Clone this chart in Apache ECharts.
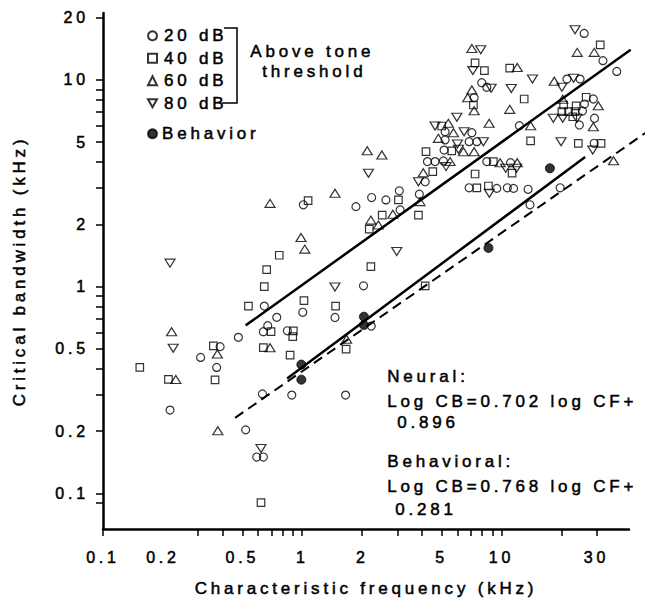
<!DOCTYPE html>
<html>
<head>
<meta charset="utf-8">
<title>Critical bandwidth vs characteristic frequency</title>
<script src="https://cdn.jsdelivr.net/npm/echarts@6.0.0/dist/echarts.min.js"></script>
<style>
  html, body { margin: 0; padding: 0; background: #fff; }
  #chart { width: 645px; height: 602px; }
  /* lettering in the figure is widely tracked */
  #chart text { letter-spacing: 3.8px; }
</style>
</head>
<body>
<div id="chart"></div>
<script>
// [CF kHz, CB kHz] per level above tone threshold
const db20 = [
  [0.217, 0.253], [0.309, 0.455], [0.387, 0.513], [0.372, 0.407], [0.478, 0.569],
  [0.645, 0.806], [0.745, 0.711], [0.671, 0.648], [0.638, 0.606], [0.631, 0.303],
  [0.52, 0.203], [0.591, 0.15], [0.638, 0.15], [0.842, 0.612], [0.886, 0.299],
  [1.006, 0.752], [1.013, 2.49], [1.46, 0.71], [2.03, 1.01], [1.65, 0.299],
  [2.22, 0.645], [26.0, 16.8], [32.3, 12.4], [37.9, 11.0], [21.3, 10.1],
  [24.8, 10.1], [7.96, 9.7], [8.44, 9.22], [7.29, 8.21], [28.9, 8.09],
  [26.1, 7.65], [25.5, 7.08], [29.3, 6.53], [24.6, 6.06], [12.3, 6.01],
  [5.21, 5.62], [7.1, 5.56], [5.21, 5.13], [6.88, 5.03], [7.52, 5.03],
  [5.15, 4.58], [4.25, 4.03], [4.64, 4.03], [5.11, 4.06], [4.14, 3.22],
  [3.87, 2.8], [3.07, 2.91], [2.23, 2.7], [2.63, 2.63], [1.86, 2.44],
  [3.1, 2.35], [8.44, 4.03], [11.1, 3.98], [6.88, 3.01], [9.47, 2.99],
  [10.7, 3.01], [11.5, 2.99], [13.6, 2.96], [13.9, 2.49], [19.7, 3.01],
  [29.2, 4.94],
]
const db40 = [
  [0.153, 0.407], [0.213, 0.356], [0.358, 0.517], [0.365, 0.354], [0.537, 0.806],
  [0.645, 1.0], [0.697, 0.606], [0.638, 0.507], [0.621, 0.0902], [0.902, 0.612],
  [0.896, 0.573], [0.869, 0.467], [1.02, 0.856], [0.767, 1.42], [0.663, 1.21],
  [1.07, 2.61], [1.47, 0.806], [2.21, 1.25], [1.66, 0.499], [4.14, 1.01],
  [31.3, 14.8], [7.37, 12.1], [8.21, 11.1], [11.0, 11.4], [13.0, 8.09],
  [7.23, 7.57], [26.6, 8.25], [20.5, 7.57], [23.7, 7.49], [20.1, 7.03],
  [21.7, 7.03], [23.4, 7.03], [22.8, 6.64], [5.01, 5.99], [4.18, 4.5],
  [5.63, 4.54], [4.52, 3.6], [3.83, 2.22], [3.04, 2.63], [2.52, 2.22],
  [2.17, 1.9], [7.37, 3.51], [9.1, 4.03], [11.3, 3.54], [7.52, 3.01],
  [8.6, 3.07], [14.0, 5.07], [24.3, 4.94], [31.6, 4.94],
]
const db60 = [
  [0.232, 0.356], [0.221, 0.606], [0.375, 0.473], [0.377, 0.201], [0.689, 0.507],
  [0.689, 2.53], [1.46, 2.83], [0.986, 1.73], [1.03, 1.52], [1.67, 0.557],
  [24.0, 13.6], [29.2, 13.6], [7.1, 14.2], [12.0, 11.5], [18.4, 9.86],
  [7.1, 8.95], [6.77, 8.21], [7.29, 7.1], [11.0, 7.21], [20.3, 8.07],
  [30.6, 7.51], [28.9, 5.94], [14.0, 6.01], [8.67, 6.17], [5.41, 6.17],
  [5.74, 5.56], [4.82, 5.22], [6.44, 4.5], [7.29, 4.5], [5.52, 4.03],
  [4.05, 3.56], [3.9, 2.58], [2.85, 2.24], [2.21, 2.1], [2.41, 1.99],
  [2.12, 4.55], [2.51, 4.34], [9.84, 3.98], [12.0, 3.98], [36.5, 4.07],
]
const db80 = [
  [0.225, 0.504], [0.217, 1.3], [0.621, 0.165], [1.46, 0.997], [2.98, 1.48],
  [23.4, 17.5], [7.87, 14.0], [7.18, 11.1], [14.3, 10.1], [20.1, 9.22],
  [23.0, 10.2], [8.87, 9.12], [11.2, 9.1], [18.2, 6.53], [20.3, 6.53],
  [23.9, 6.53], [5.97, 6.6], [4.64, 5.99], [6.49, 5.62], [6.01, 4.9],
  [8.11, 5.03], [6.08, 4.62], [5.27, 3.81], [3.83, 3.22], [2.15, 3.54],
  [8.69, 2.83], [10.5, 3.74], [11.9, 3.74], [19.9, 5.03], [28.7, 4.58],
]
const behavior = [[0.99, 0.42], [0.99, 0.355], [2.04, 0.716], [2.04, 0.653], [8.6, 1.54], [17.5, 3.74]]

// fitted lines, end points
const neuralFit = [[0.52, 0.65], [44.5, 14.0]]
const behavioralFit = [[0.84, 0.36], [26.3, 4.24]]
const dashedFit = [[0.46, 0.232], [52.6, 5.53]]

const xTicks = [0.1, 0.3, 0.4, 0.5, 0.6, 0.7, 0.8, 0.9, 1, 2, 3, 4, 5, 6, 7, 8, 9, 10, 20, 30]
const xTickLabels = [0.1, 0.2, 0.5, 1, 2, 5, 10, 30]
const yTicks = [0.09, 0.1, 0.2, 0.3, 0.4, 0.5, 0.6, 0.7, 0.8, 0.9, 1, 2, 3, 4, 5, 6, 7, 8, 9, 10, 20]
const yTickLabels = [0.1, 0.2, 0.5, 1, 2, 5, 10, 20]

const FONT = '"Liberation Sans", Arial, sans-serif'
const lg = Math.log10
const toLog = (pts) => pts.map(([x, y]) => [lg(x), lg(y)])
const fmt = (v) => String(+Math.pow(10, v).toPrecision(3))
// thin outline makes the scanned-looking type a bit heavier
const txt = (size) => ({ color: '#000', fontSize: size, fontFamily: FONT, textBorderColor: '#000', textBorderWidth: 0.5 })
const gtxt = (text) => ({ text, fontSize: 17, fontFamily: FONT, fill: '#000', stroke: '#000', lineWidth: 0.5 })

// log10 extents of the plotted axes
const X_MIN = -1
const X_MAX = 1.64
const Y_MIN = -1.172
const Y_MAX = 1.324
// the fit lines run a little past the end of the x axis, so they sit on a
// hidden twin grid that is 16px wider with the same scale
const X_MAX_WIDE = X_MIN + (X_MAX - X_MIN) * 542 / 526

const chart = echarts.init(document.getElementById('chart'), null, { renderer: 'svg' })

function hollow(name, data, symbol, size, rotate) {
  return {
    name,
    type: 'scatter',
    data: toLog(data),
    symbol,
    symbolSize: size,
    symbolRotate: rotate || 0,
    itemStyle: { color: 'rgba(255,255,255,0)', borderColor: '#000', borderWidth: 1.2 },
    emphasis: { disabled: true },
    z: 3,
  }
}

function fit(data, dashed) {
  return {
    type: 'line',
    xAxisIndex: 1,
    yAxisIndex: 1,
    data: toLog(data),
    symbol: 'none',
    silent: true,
    lineStyle: { color: '#000', width: dashed ? 2 : 2.5, type: dashed ? [10, 6] : 'solid' },
    z: 2,
  }
}

function axis(ticks, labels, min, max, name, gap, labelMargin) {
  return {
    type: 'value',
    min,
    max,
    name,
    nameLocation: 'middle',
    nameGap: gap,
    nameTextStyle: txt(17),
    splitLine: { show: false },
    axisLine: { onZero: false, lineStyle: { color: '#000', width: 2.5 } },
    axisTick: { customValues: ticks.map(lg), length: 7, lineStyle: { color: '#000', width: 1.5 } },
    axisLabel: { customValues: labels.map(lg), formatter: fmt, ...txt(16), margin: labelMargin },
  }
}

const legendBase = {
  orient: 'vertical',
  left: 142,
  itemWidth: 9,
  itemHeight: 9,
  itemGap: 5,
  selectedMode: false,
}

chart.setOption({
  animation: false,
  backgroundColor: '#fff',
  grid: [
    { left: 103, right: 16, top: 13, bottom: 73, containLabel: false, outerBoundsMode: 'none' },
    { left: 103, right: 0, top: 13, bottom: 73, containLabel: false, outerBoundsMode: 'none' },
  ],
  xAxis: [
    axis(xTicks, xTickLabels, X_MIN, X_MAX, 'Characteristic frequency (kHz)', 51, 20),
    { type: 'value', gridIndex: 1, show: false, min: X_MIN, max: X_MAX_WIDE },
  ],
  yAxis: [
    axis(yTicks, yTickLabels, Y_MIN, Y_MAX, 'Critical bandwidth (kHz)', 75, 14),
    { type: 'value', gridIndex: 1, show: false, min: Y_MIN, max: Y_MAX },
  ],
  legend: [
    {
      ...legendBase,
      top: 22,
      textStyle: { ...txt(17), padding: [0, 0, 0, 2] },
      data: [
        { name: '20 dB', icon: 'circle' },
        { name: '40 dB', icon: 'rect' },
        { name: '60 dB', icon: 'triangle' },
        { name: '80 dB', icon: 'path://M0,0L10,0L5,8.66Z' },
      ],
    },
    { ...legendBase, top: 120, textStyle: { ...txt(17), padding: [0, 0, 0, 0] }, data: ['Behavior'] },
  ],
  graphic: [
    { type: 'polyline', shape: { points: [[224, 28], [237, 28], [237, 103], [222, 103]] }, style: { stroke: '#000', lineWidth: 1.5, fill: null } },
    { type: 'text', left: 250, top: 43, style: gtxt('Above tone') },
    { type: 'text', left: 262, top: 63, style: gtxt('threshold') },
    { type: 'text', left: 387, top: 368, style: gtxt('Neural:') },
    { type: 'text', left: 387, top: 393, style: gtxt('Log CB=0.702 log CF+') },
    { type: 'text', left: 397, top: 414, style: gtxt('0.896') },
    { type: 'text', left: 387, top: 453, style: gtxt('Behavioral:') },
    { type: 'text', left: 387, top: 478, style: gtxt('Log CB=0.768 log CF+') },
    { type: 'text', left: 395, top: 501, style: gtxt('0.281') },
  ],
  series: [
    hollow('20 dB', db20, 'circle', 8),
    hollow('40 dB', db40, 'rect', 7.5),
    hollow('60 dB', db60, 'triangle', [10, 8]),
    hollow('80 dB', db80, 'triangle', [10, 8], 180),
    {
      name: 'Behavior',
      type: 'scatter',
      data: toLog(behavior),
      symbol: 'circle',
      symbolSize: 9,
      itemStyle: { color: '#000', borderColor: '#000', borderWidth: 1 },
      emphasis: { disabled: true },
      z: 4,
    },
    fit(neuralFit),
    fit(behavioralFit),
    fit(dashedFit, true),
  ],
})
</script>
</body>
</html>
